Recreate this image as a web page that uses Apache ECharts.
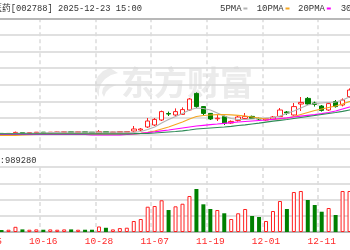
<!DOCTYPE html>
<html><head><meta charset="utf-8">
<script src="https://cdn.jsdelivr.net/npm/echarts@6/dist/echarts.min.js"></script>
<style>html,body{margin:0;padding:0;background:#fff}#c{width:350px;height:250px}</style>
</head><body><div id="c"></div>
<script>
var dates = ['09-25','09-29','09-30','10-09','10-10','10-13','10-14','10-15','10-16','10-17','10-20','10-21','10-22','10-23','10-24','10-27','10-28','10-29','10-30','10-31','11-03','11-04','11-05','11-06','11-07','11-10','11-11','11-12','11-13','11-14','11-17','11-18','11-19','11-20','11-21','11-24','11-25','11-26','11-27','11-28','12-01','12-02','12-03','12-04','12-05','12-08','12-09','12-10','12-11','12-12','12-15','12-16','12-17','12-18','12-19','12-22','12-23'];
var tickDates = ['09-25','10-16','10-28','11-07','11-19','12-01','12-11','12-23'];
// [open, close, low, high]
var ohlc = [
[8.02,8.00,7.98,8.04],[8.00,8.03,7.98,8.05],[8.03,8.00,7.98,8.05],[8.00,8.03,7.99,8.05],[8.02,8.08,8.00,8.12],
[8.07,8.04,8.02,8.08],[8.04,8.07,8.02,8.08],[8.06,8.09,8.04,8.10],[8.09,8.06,8.04,8.10],[8.06,8.09,8.05,8.10],
[8.08,8.10,8.06,8.11],[8.08,8.11,8.06,8.12],[8.11,8.08,8.06,8.12],[8.08,8.11,8.07,8.12],[8.11,8.08,8.07,8.12],
[8.09,8.06,8.05,8.10],[8.05,8.12,8.04,8.20],[8.12,8.07,8.05,8.13],[8.07,8.10,8.06,8.11],[8.08,8.12,8.07,8.13],
[8.09,8.12,8.08,8.14],[8.15,8.25,8.12,8.40],[8.20,8.25,8.15,8.30],[8.35,8.65,8.30,8.80],[8.45,8.73,8.40,8.80],
[8.70,9.12,8.65,9.17],[9.02,9.00,8.90,9.12],[8.95,9.12,8.88,9.28],[8.98,9.22,8.95,9.33],[9.20,9.75,9.15,9.80],
[10.03,9.37,9.30,10.08],[9.37,9.03,8.95,9.40],[9.03,8.75,8.70,9.05],[8.76,8.79,8.65,8.95],[8.87,8.53,8.45,8.92],
[8.55,8.63,8.50,8.68],[8.68,8.85,8.62,8.90],[8.78,8.88,8.70,9.05],[8.88,8.78,8.75,8.92],[8.78,8.75,8.70,8.82],
[8.70,8.76,8.66,8.80],[8.75,8.85,8.72,8.90],[8.87,9.20,8.85,9.30],[9.10,9.05,8.95,9.15],[8.95,9.37,8.92,9.55],
[9.50,9.58,9.15,9.85],[9.78,9.50,9.45,9.85],[9.55,9.48,9.37,9.62],[9.40,9.18,9.12,9.45],[9.20,9.52,9.15,9.55],
[9.62,9.37,9.32,9.70],[9.45,9.70,9.38,9.78],[9.87,10.20,9.80,10.28],[10.20,10.45,10.10,10.55],[10.45,10.60,10.35,10.75],
[10.60,10.85,10.50,10.95],[10.85,11.05,10.75,11.20]
];
var volume = [40000,35000,30000,35000,80000,40000,35000,40000,35000,40000,35000,40000,40000,35000,35000,35000,85000,65000,40000,60000,66000,
169000,200000,389000,400000,488000,338000,395000,435000,554000,662000,426000,354000,338000,288000,200000,288000,354000,246000,231000,169000,323000,477000,354000,615000,631000,492000,415000,312000,369000,262000,631000,631000,700000,650000,800000,989280];
var ma5 = [8.025,8.025,8.025,8.025,8.03,8.04,8.05,8.05,8.06,8.07,8.08,8.09,8.09,8.09,8.09,8.09,8.09,8.09,8.09,8.09,8.10,
8.075,8.125,8.225,8.35,8.55,8.725,8.875,9.025,9.20,9.30,9.275,9.20,9.05,8.90,8.775,8.725,8.725,8.75,8.775,8.80,8.825,8.90,9.025,9.15,9.30,9.45,9.525,9.55,9.575,9.60,9.70,9.85,10.00,10.10,10.20,10.30];
var ma10 = [7.925,7.925,7.925,7.925,7.925,7.95,7.97,7.985,7.99,7.99,7.99,7.99,7.99,7.99,7.99,7.99,7.99,7.99,7.99,7.99,7.99,
8.00,8.035,8.085,8.15,8.25,8.35,8.475,8.60,8.75,8.875,8.925,8.95,8.965,8.975,8.96,8.935,8.90,8.85,8.80,8.75,8.725,8.75,8.80,8.875,8.975,9.075,9.175,9.25,9.325,9.40,9.50,9.625,9.75,9.85,9.95,10.05];
var ma20 = [7.975,7.975,7.975,7.975,7.975,7.975,7.975,7.975,7.975,7.975,7.975,7.975,7.975,7.975,7.975,7.95,7.95,7.95,7.95,7.96,7.975,
8.00,8.03,8.065,8.11,8.16,8.20,8.25,8.30,8.35,8.40,8.435,8.47,8.50,8.535,8.565,8.60,8.625,8.65,8.675,8.70,8.735,8.775,8.81,8.85,8.89,8.93,8.97,9.02,9.075,9.15,9.25,9.35,9.45,9.55,9.65,9.75];
var ma30 = [8.01,8.01,8.01,8.01,8.01,8.01,8.01,8.01,8.01,8.01,8.01,8.01,8.01,8.01,8.01,8.01,8.01,8.01,8.01,8.01,8.01,
8.015,8.025,8.035,8.05,8.075,8.10,8.125,8.16,8.20,8.25,8.275,8.30,8.325,8.35,8.385,8.425,8.46,8.50,8.54,8.59,8.64,8.685,8.725,8.775,8.825,8.875,8.925,8.975,9.025,9.075,9.135,9.20,9.25,9.30,9.35,9.40];
var maNames = ['5PMA','10PMA','20PMA','30PMA'];
var maColors = ['#b4b4b4','#f5a623','#ff00ff','#2e8b57'];
var titleText = '鹭燕医药[002788] 2025-12-23 15:00';
var volText = '成交量:989280';

var UP = '#ff2020', DOWN = '#008000';
var mono = 'Liberation Mono, monospace';
var chart = echarts.init(document.getElementById('c'), null, {renderer:'canvas'});
var isTick = function (i, v) { return tickDates.indexOf(dates[i]) >= 0; };
var volData = volume.map(function (v, i) {
  var up = ohlc[i][1] >= ohlc[i][0];
  return { value: v, itemStyle: up ? {color:'#fff', borderColor: UP, borderWidth: 1} : {color: DOWN, borderWidth: 0} };
});
var legendGraphics = [];
var lx = [220, 256.7, 298, 340.7];
maNames.forEach(function (n, k) {
  legendGraphics.push({type:'text', x: lx[k], y: 8.5, style:{text:n, font:'9px Liberation Mono', fill:'#333', textVerticalAlign:'middle'}});
  legendGraphics.push({type:'rect', shape:{x: lx[k] + n.length*5.4 + 1.8, y: 7.5, width: 4, height: 2}, style:{fill: maColors[k]}});
});
var maSeries = [ma5, ma10, ma20, ma30].map(function (d, k) {
  return {name: maNames[k], type:'line', data: d, xAxisIndex:0, yAxisIndex:0, showSymbol:false, symbol:'none',
    lineStyle:{width:1.2, color: maColors[k]}, itemStyle:{color: maColors[k]}, z: 3, silent:true, animation:false};
});
chart.setOption({
  animation: false,
  grid: [
    {left: -15.86, width: 396.72, top: 18.3, height: 130.7, outerBoundsMode: 'none', containLabel: false},
    {left: -15.86, width: 396.72, top: 167, height: 65, outerBoundsMode: 'none', containLabel: false}
  ],
  xAxis: [
    {type:'category', gridIndex:0, data: dates, boundaryGap:true,
     axisLine:{show:true, lineStyle:{color:'#b8b8b8', width:2}}, axisTick:{show:false}, axisLabel:{show:false},
     splitLine:{show:true, interval: isTick, lineStyle:{color:'#dcdcdc', type:[4,3], width:1.5}}},
    {type:'category', gridIndex:1, data: dates, boundaryGap:true,
     axisLine:{show:true, lineStyle:{color:'#b8b8b8', width:2}}, axisTick:{show:false},
     axisLabel:{show:true, interval: isTick, color:'#ff2a2a', fontFamily: mono, fontSize: 9.5, margin: 4, hideOverlap:false},
     splitLine:{show:true, interval: isTick, lineStyle:{color:'#dcdcdc', type:[4,3], width:1.5}}}
  ],
  yAxis: [
    {type:'value', gridIndex:0, min:7.25, max:13.785, scale:true, axisLine:{show:false}, axisTick:{show:false}, axisLabel:{show:false}, splitLine:{show:false}},
    {type:'value', gridIndex:0, min:0, max:130.7, interval:16.6, inverse:true, axisLine:{show:false}, axisTick:{show:false}, axisLabel:{show:false},
     splitLine:{show:true, lineStyle:{color:'#d6d6d6', width:1.5}}},
    {type:'value', gridIndex:1, min:0, max:1000000, interval:250000, axisLine:{show:false}, axisTick:{show:false}, axisLabel:{show:false},
     splitLine:{show:true, lineStyle:{color:'#d6d6d6', width:1.5}}}
  ],
  graphic: [
    {type:'polygon', z:-1, shape:{points:[[110,68],[103,71],[98,76],[95,82],[95,89],[99,97],[99,90],[101,84],[105,79],[111,75],[118,73]]}, style:{fill:'#ebebeb'}},
    {type:'polygon', z:-1, shape:{points:[[107,84],[103,88],[102,93],[104,97],[106,92],[110,88],[116,85]]}, style:{fill:'#ebebeb'}},
    {type:'text', z:-1, x:121, y:82, style:{text:'东方财富', font:'bold 33px "Noto Sans CJK SC"', fill:'#ebebeb', textVerticalAlign:'middle'}},
    {type:'text', x:-24.3, y:8.5, style:{text:titleText, font:'8.75px Liberation Mono, "Noto Sans CJK SC"', fill:'#333', textVerticalAlign:'middle'}},
    {type:'text', x:36.4, y:160.5, style:{text:volText, font:'8.75px Liberation Mono, "Noto Sans CJK SC"', fill:'#333', textAlign:'right', textVerticalAlign:'middle'}}
  ].concat(legendGraphics),
  series: [
    {name:'K', type:'candlestick', xAxisIndex:0, yAxisIndex:0, data: ohlc, barWidth:5, z:2,
     itemStyle:{color:'#ffffff', color0: DOWN, borderColor: UP, borderColor0: DOWN, borderWidth:1}},
    {name:'VOL', type:'bar', xAxisIndex:1, yAxisIndex:2, data: volData, barWidth:4}
  ].concat(maSeries)
});
</script></body></html>
